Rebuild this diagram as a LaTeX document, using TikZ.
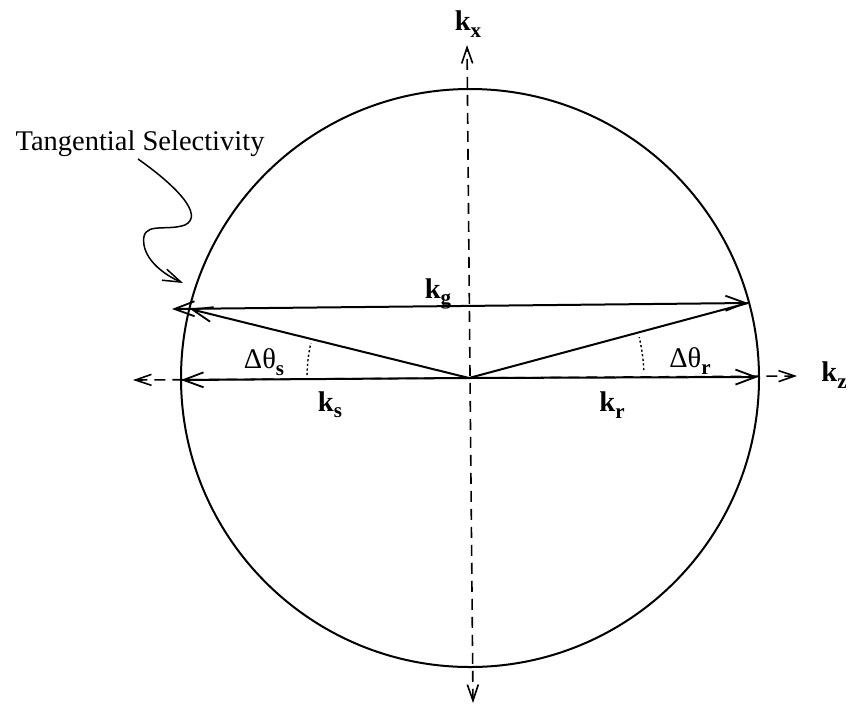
\documentclass[tikz,border=0pt]{standalone}
\usepackage{fontspec}
\setmainfont{Liberation Serif}
\usetikzlibrary{arrows.meta}
\newcommand\subb[1]{\raisebox{-0.22em}{\fontsize{21}{24}\selectfont\textbf{#1}}}
\begin{document}
\begin{tikzpicture}[x=1pt,y=-1pt,
  lbl/.style={inner sep=0pt, font=\fontsize{28.5}{32}\selectfont},
  vec/.style={line width=2pt, -{Straight Barb[length=20pt,width=15pt,line width=1.8pt]}},
  dvec/.style={line width=2pt, {Straight Barb[length=20pt,width=15pt,line width=1.8pt]}-{Straight Barb[length=20pt,width=15pt,line width=1.8pt]}},
  axisline/.style={line width=1.6pt, dash pattern=on 11pt off 7pt,
    {Straight Barb[length=16pt,width=11pt,line width=1.6pt]}-{Straight Barb[length=16pt,width=11pt,line width=1.6pt]}},
  angmark/.style={line width=1.4pt, dash pattern=on 2.2pt off 2.4pt}]
\useasboundingbox (0,0) rectangle (851,713);

% points
\coordinate (O)  at (469,378);
\coordinate (L)  at (181,380);
\coordinate (R)  at (758,377);
\coordinate (UL) at (190,309);
\coordinate (UR) at (748,303);
\coordinate (GL) at (172,309);
\coordinate (Xt) at (467,45);
\coordinate (Xb) at (473,703);
\coordinate (Zl) at (133,380);
\coordinate (Zr) at (797,376);
\coordinate (cs) at (138,159);
\coordinate (ce) at (183,283);

% circle
\draw[line width=2pt] (470,378) circle[radius=289];

% dashed axes
\draw[axisline] (Xb) -- (Xt);
\draw[axisline] (Zl) -- (Zr);

% vectors
\draw[vec] (O) -- (L);
\draw[vec] (O) -- (R);
\draw[vec] (O) -- (UL);
\draw[line width=2pt] (O) -- (UR);
\draw[dvec] (GL) -- (UR);

% angle marks
\draw[angmark] (O) ++(181:162) arc[start angle=181, end angle=192.5, radius=162];
\draw[angmark] (O) ++(-2.6:175) arc[start angle=-2.6, end angle=-13.5, radius=175];

% labels
\node[lbl] (kx) at (468,24) {\textbf{k}\subb{x}};
\node[lbl] (kz) at (834,375) {\textbf{k}\subb{z}};
\node[lbl] (kg) at (438,294) {\textbf{k}\subb{g}};
\node[lbl] (ks) at (330,405) {\textbf{k}\subb{s}};
\node[lbl] (kr) at (612,405) {\textbf{k}\subb{r}};
\node[lbl] (dts) at (264,362) {Δθ\subb{s}};
\node[lbl] (dtr) at (690,361) {Δθ\subb{r}};
\node[lbl, anchor=base] (ts) at (140,150) {Tangential Selectivity};

% pointer
\draw[line width=1.5pt, -{Straight Barb[length=18pt,width=12pt,line width=1.5pt]}]
  (cs) .. controls (175,185) and (205,215) .. (185,225)
       .. controls (165,232) and (140,220) .. (144,245)
       .. controls (147,262) and (165,275) .. (ce);
\end{tikzpicture}
\end{document}
